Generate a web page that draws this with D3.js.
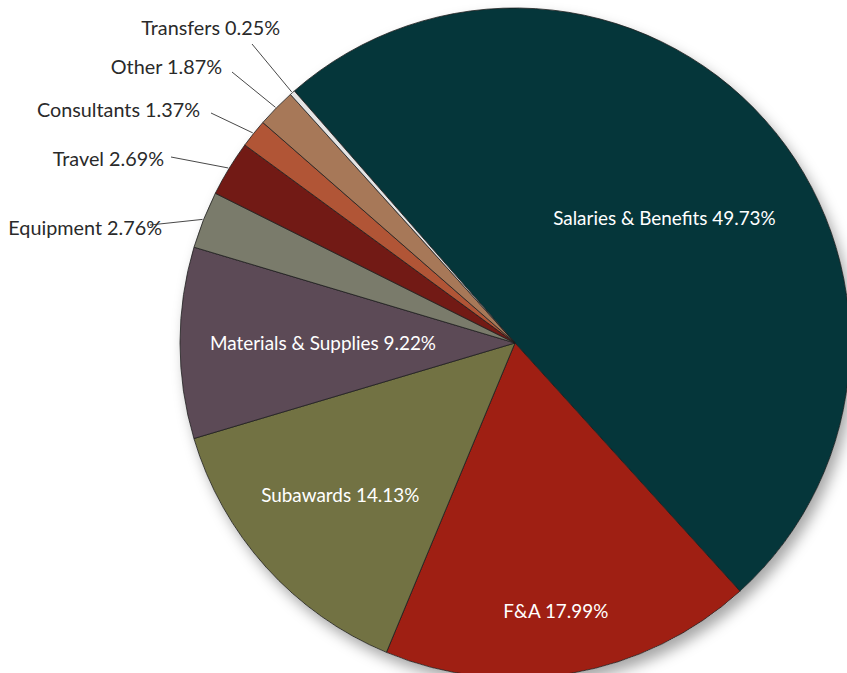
<!DOCTYPE html>
<html>
<head>
<meta charset="utf-8">
<script src="https://cdn.jsdelivr.net/npm/d3@7"></script>
<style>
  html, body { margin: 0; padding: 0; background: #fff; }
  svg { display: block; }
  text { font-family: Lato, "Open Sans", sans-serif; }
</style>
</head>
<body>
<svg id="chart" width="847" height="673"></svg>
<script>
// ---- data ----
const categories = ["Salaries & Benefits", "F&A", "Subawards", "Materials & Supplies",
                    "Equipment", "Travel", "Consultants", "Other", "Transfers"];
const values = [49.73, 17.99, 14.13, 9.22, 2.76, 2.69, 1.37, 1.87, 0.25];
const colors = ["#05363a", "#9f1f13", "#727243", "#5c4a56", "#7a7b6b",
                "#721a15", "#b15536", "#a77858", "#e4e4e4"];

// ---- layout ----
const W = 847, H = 673;
const cx = 515, cy = 343, R = 335;
const startAngle = -41.2 * Math.PI / 180;

const svg = d3.select("#chart");
const defs = svg.append("defs");
const f = defs.append("filter").attr("id", "shadow")
  .attr("x", "-20%").attr("y", "-20%").attr("width", "140%").attr("height", "140%");
f.append("feDropShadow").attr("dx", 5).attr("dy", 8).attr("stdDeviation", 7)
  .attr("flood-color", "#000").attr("flood-opacity", 0.35);

const pie = d3.pie().sort(null).value(d => d)
  .startAngle(startAngle).endAngle(startAngle + 2 * Math.PI);
const arcs = pie(values);
const arc = d3.arc().innerRadius(0).outerRadius(R);

const g = svg.append("g").attr("transform", `translate(${cx},${cy})`);

// shadow base
g.append("circle").attr("r", R).attr("fill", "#fff").attr("filter", "url(#shadow)");

g.selectAll("path.slice").data(arcs).join("path")
  .attr("class", "slice")
  .attr("d", arc)
  .attr("fill", (d, i) => colors[i])
  .attr("stroke", "#1e1e1e")
  .attr("stroke-width", 0.8)
  .attr("stroke-linejoin", "round");

const fmt = v => v.toFixed(2) + "%";

// inside labels: radius per slice (layout)
const insideR = {0: 195, 1: 271, 2: 231, 3: 192};
const insideShift = {0: 0.03, 1: 0.02, 2: 0.02, 3: 0};
arcs.forEach((d, i) => {
  if (insideR[i] === undefined) return;
  const a = (d.startAngle + d.endAngle) / 2 + insideShift[i];
  const x = insideR[i] * Math.sin(a), y = -insideR[i] * Math.cos(a);
  g.append("text")
    .attr("x", x).attr("y", y)
    .attr("text-anchor", "middle").attr("dominant-baseline", "central")
    .attr("fill", "#fff").attr("font-size", 18.9)
    .text(categories[i] + " " + fmt(values[i]));
});

// outside labels: text end anchors (absolute, layout) and leader lines
const outsideLabels = {
  4: {tx: 162, ty: 227, lx0: 150, ly0: 225},
  5: {tx: 164, ty: 158, lx0: 171, ly0: 157},
  6: {tx: 200, ty: 109, lx0: 211, ly0: 113},
  7: {tx: 222, ty: 66,  lx0: 232, ly0: 72},
  8: {tx: 280, ty: 27,  lx0: 252, ly0: 44}
};
const og = svg.append("g");
arcs.forEach((d, i) => {
  const o = outsideLabels[i];
  if (!o) return;
  const a = (d.startAngle + d.endAngle) / 2;
  const ex = cx + (R + 1) * Math.sin(a), ey = cy - (R + 1) * Math.cos(a);
  og.append("line")
    .attr("x1", o.lx0).attr("y1", o.ly0).attr("x2", ex).attr("y2", ey)
    .attr("stroke", "#333").attr("stroke-width", 0.9);
  og.append("text")
    .attr("x", o.tx).attr("y", o.ty)
    .attr("text-anchor", "end").attr("dominant-baseline", "central")
    .attr("fill", "#2a2a2a").attr("font-size", 19.8)
    .text(categories[i] + " " + fmt(values[i]));
});
</script>
</body>
</html>
